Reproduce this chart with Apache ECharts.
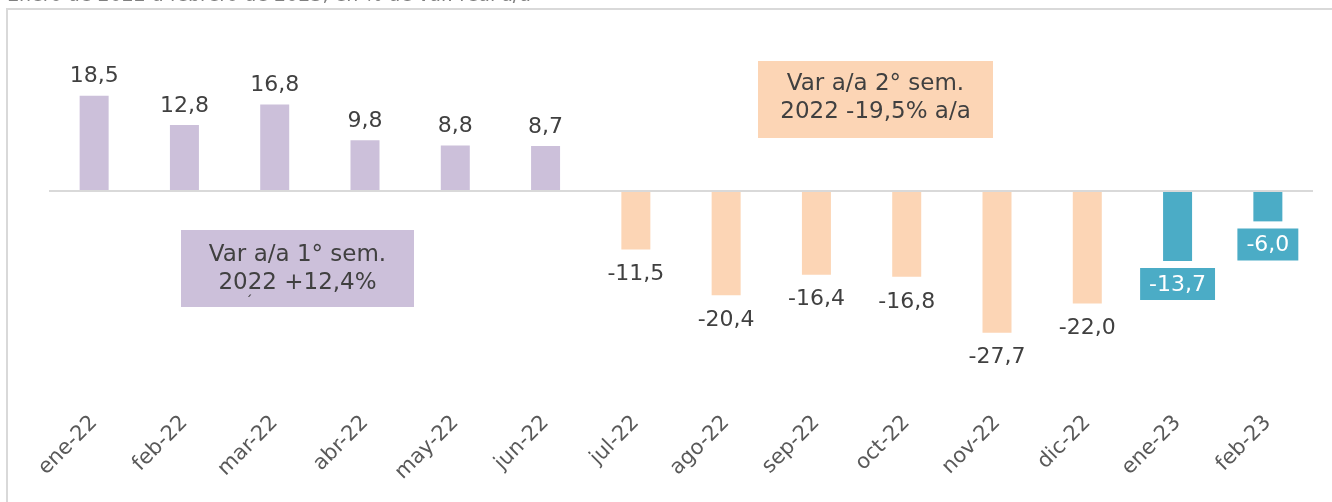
<!DOCTYPE html>
<html>
<head>
<meta charset="utf-8">
<title>Var a/a</title>
<script src="https://cdn.jsdelivr.net/npm/echarts@6/dist/echarts.min.js"></script>
<style>
  html, body { margin: 0; padding: 0; background: #ffffff; }
  #chart { width: 1332px; height: 502px; }
</style>
</head>
<body>
<div id="chart"></div>
<script>
// Enero de 2022 a febrero de 2023, en % de var. real a/a
var meses = ["ene-22", "feb-22", "mar-22", "abr-22", "may-22", "jun-22", "jul-22",
  "ago-22", "sep-22", "oct-22", "nov-22", "dic-22", "ene-23", "feb-23"];
var variacion = [18.5, 12.8, 16.8, 9.8, 8.8, 8.7, -11.5, -20.4, -16.4, -16.8, -27.7, -22.0, -13.7, -6.0];
// periodo de cada mes: 1 = 1° sem. 2022, 2 = 2° sem. 2022, 3 = 2023
var periodo = [1, 1, 1, 1, 1, 1, 2, 2, 2, 2, 2, 2, 3, 3];
var titulo = "Enero de 2022 a febrero de 2023, en % de var. real a/a";
var nota1 = ["Var a/a 1° sem.", "2022 +12,4%"];
var nota2 = ["Var a/a 2° sem.", "2022 -19,5% a/a"];

var colores = { 1: "#CCC0DA", 2: "#FCD5B5", 3: "#4BACC6" };
var fuente = "DejaVu Sans";

function fmt(v) {
  return v.toFixed(1).replace(".", ",");
}

var datos = [];
for (let i = 0; i < variacion.length; i++) {
  var v = variacion[i];
  var label = {
    show: true,
    position: v >= 0 ? "top" : "bottom",
    distance: v >= 0 ? 8 : 14,
    fontFamily: fuente,
    fontSize: 22,
    color: "#404040",
    formatter: function (p) { return fmt(p.value); }
  };
  if (periodo[i] == 3) {
    label.distance = 7;
    label.color = "#ffffff";
    label.backgroundColor = "#4BACC6";
    label.padding = [6, 9, 4, 9];
  }
  datos.push({ value: v, itemStyle: { color: colores[periodo[i]] }, label: label });
}

function textoNota(txt, x, y) {
  return {
    type: "text",
    style: {
      text: txt, x: x, y: y,
      font: "23px '" + fuente + "'",
      fill: "#404040",
      textAlign: "center", textVerticalAlign: "middle",
      align: "center", verticalAlign: "middle"
    }
  };
}

var chart = echarts.init(document.getElementById("chart"));
var option = {
  animation: false,
  backgroundColor: "#ffffff",
  grid: { left: 49, width: 1264, top: 88, bottom: 157.5, containLabel: false, outerBoundsMode: "none" },
  xAxis: {
    type: "category",
    data: meses,
    axisLine: { show: false, onZero: false },
    axisTick: { show: false },
    axisLabel: {
      interval: 0,
      rotate: 45,
      margin: 75,
      fontFamily: fuente,
      fontSize: 21,
      color: "#595959"
    }
  },
  yAxis: {
    type: "value",
    min: -30,
    max: 20,
    show: false,
    splitLine: { show: false }
  },
  series: [
    {
      type: "bar",
      barWidth: 29,
      data: datos,
      markLine: {
        silent: true,
        symbol: "none",
        label: { show: false },
        lineStyle: { color: "#d9d9d9", width: 2, type: "solid" },
        data: [{ yAxis: 0 }]
      }
    }
  ],
  graphic: [
    {
      type: "rect",
      shape: { x: 7, y: 9, width: 1400, height: 600 },
      style: { fill: "none", stroke: "#d9d9d9", lineWidth: 2 },
      z: -1
    },
    {
      type: "text",
      style: {
        text: titulo, x: 7, y: 6,
        font: "19px '" + fuente + "'",
        fill: "#7f7f7f",
        textAlign: "left", textVerticalAlign: "bottom",
        align: "left", verticalAlign: "bottom"
      }
    },
    {
      type: "rect",
      shape: { x: 181, y: 230, width: 233, height: 77 },
      style: { fill: "#CCC0DA" }
    },
    textoNota(nota1[0], 297.5, 255),
    textoNota(nota1[1], 297.5, 283),
    {
      type: "text",
      style: {
        text: "\u00b4", x: 249, y: 302,
        font: "14px '" + fuente + "'",
        fill: "#404040",
        textAlign: "center", textVerticalAlign: "middle",
        align: "center", verticalAlign: "middle"
      }
    },
    {
      type: "rect",
      shape: { x: 758, y: 61, width: 235, height: 77 },
      style: { fill: "#FCD5B5" }
    },
    textoNota(nota2[0], 875.5, 84),
    textoNota(nota2[1], 875.5, 112)
  ]
};
chart.setOption(option);
</script>
</body>
</html>
